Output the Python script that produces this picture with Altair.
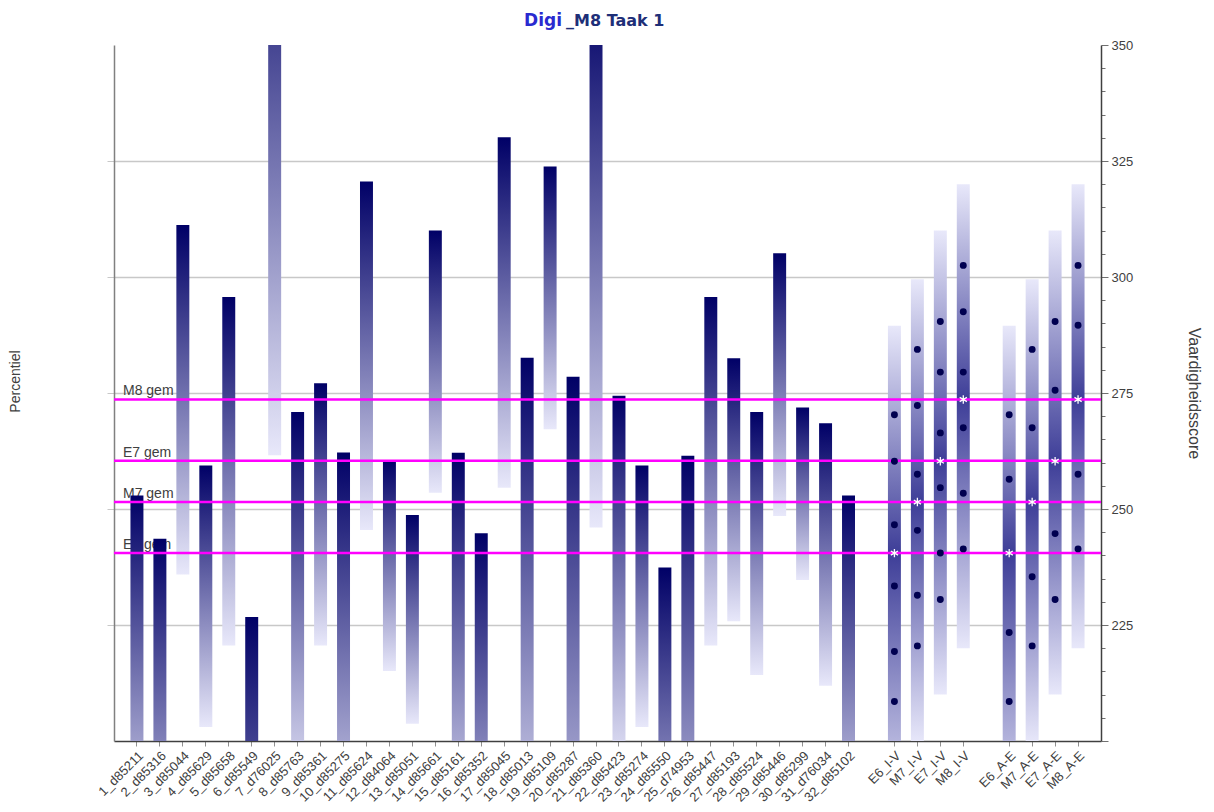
import altair as alt
import pandas as pd

# ---------------- data ----------------
items = ["1_d85211", "2_d85316", "3_d85044", "4_d85629", "5_d85658", "6_d85549",
         "7_d76025", "8_d85763", "9_d85361", "10_d85275", "11_d85624", "12_d84064",
         "13_d85051", "14_d85661", "15_d85161", "16_d85352", "17_d85045", "18_d85013",
         "19_d85109", "20_d85287", "21_d85360", "22_d85423", "23_d85274", "24_d85550",
         "25_d74953", "26_d85447", "27_d85193", "28_d85524", "29_d85446", "30_d85299",
         "31_d76034", "32_d85102"]
# extent of each item bar (gradient dark at top, light at bottom); parts outside 200-350 are clipped
item_top = [252.9, 243.6, 311.2, 259.4, 295.7, 226.7, 388.0, 270.9, 277.1, 262.2,
            320.6, 260.5, 248.7, 310.0, 262.1, 244.8, 330.1, 282.6, 323.8, 278.5,
            361.6, 274.4, 259.4, 237.4, 261.5, 295.7, 282.5, 270.9, 305.1, 271.9,
            268.5, 252.9]
item_bottom = [175.0, 165.0, 235.9, 203.0, 220.6, 130.0, 261.6, 187.5, 220.6, 173.0,
               245.5, 215.1, 203.7, 253.5, 176.0, 164.0, 254.6, 172.6, 267.2, 157.7,
               246.0, 193.5, 203.0, 162.0, 159.0, 220.6, 225.8, 214.2, 248.5, 234.7,
               211.9, 175.0]

groups = ["E6", "M7", "E7", "M8"]
iv_labels = ["E6_I-V", "M7_I-V", "E7_I-V", "M8_I-V"]
ae_labels = ["E6_A-E", "M7_A-E", "E7_A-E", "M8_A-E"]
group_top = [289.5, 299.5, 310.0, 320.0]
group_mean = [240.5, 251.5, 260.3, 273.6]
group_bottom = [182.0, 199.5, 210.0, 220.0]

iv_dots = [
    [270.3, 260.3, 246.6, 233.4, 219.3, 208.5],
    [284.4, 272.3, 257.5, 245.4, 231.4, 220.5],
    [290.4, 279.5, 266.4, 254.6, 240.5, 230.5],
    [302.5, 292.5, 279.5, 267.5, 253.4, 241.4],
]
ae_dots = [
    [270.3, 256.4, 223.4, 208.5],
    [284.4, 267.5, 235.4, 220.5],
    [290.4, 275.6, 244.7, 230.5],
    [302.5, 289.6, 257.5, 241.4],
]

mean_labels = ["M8 gem", "E7 gem", "M7 gem", "E6 gem"]
mean_values = [273.6, 260.4, 251.5, 240.5]

right_ticks = list(range(200, 351, 5))
grid_values = [225, 250, 275, 300, 325]

# ---------------- scales / encodings ----------------
cats = items + [" "] + iv_labels + ["  "] + ae_labels

FONT = "Liberation Sans"

x_axis = alt.Axis(
    title=None, labelAngle=-45, labelFontSize=13, labelColor="#404040", labelFont=FONT,
    labelOverlap=False, labelPadding=3, tickColor="#909090", tickSize=5,
    domainColor="#404040", domainWidth=1.5,
    tickOpacity={"condition": {"test": "trim(datum.value) == ''", "value": 0}, "value": 1},
)
x_enc = alt.X("cat:N", sort=cats,
              scale=alt.Scale(domain=cats, paddingInner=0.435, paddingOuter=0.717),
              axis=x_axis)
y_scale = alt.Scale(domain=[200, 350], nice=False, zero=False)

left_axis = alt.Axis(
    orient="left", title="Percentiel", labels=False, values=grid_values,
    grid=True, gridColor="#c8c8c8", gridWidth=1.5,
    tickColor="#c8c8c8", tickSize=7, domainColor="#808080", domainWidth=1.5,
    titleFont=FONT, titleFontSize=14, titleFontWeight="normal", titleColor="#404040",
    titlePadding=84, titleY=336,
)
right_axis = alt.Axis(
    orient="right", title="Vaardigheidsscore", values=right_ticks,
    labelExpr="datum.value % 25 == 0 && datum.value > 200 ? datum.label : ''",
    tickSize={"condition": {"test": "datum.value % 25 == 0", "value": 7}, "value": 4},
    tickColor="#707070", domainColor="#404040", domainWidth=1.5, grid=False,
    labelFont=FONT, labelFontSize=13, labelColor="#404040", labelPadding=3,
    titleFont=FONT, titleFontSize=16, titleFontWeight="normal", titleColor="#404040",
    titlePadding=53,
)

DARK = "#000066"
LIGHT = "#e8e8fa"

# ---------------- layers ----------------
mean_df = pd.DataFrame({"label": mean_labels, "value": mean_values})

mean_text = alt.Chart(mean_df).mark_text(
    align="left", baseline="bottom", dy=-1, fontSize=14, font=FONT, color="#404040"
).encode(x=alt.value(9), y=alt.Y("value:Q", scale=y_scale, axis=None), text="label:N")

item_df = pd.DataFrame({"cat": items, "top": item_top, "bottom": item_bottom})
item_bars = alt.Chart(item_df).mark_bar(
    clip=True,
    color={"gradient": "linear", "x1": 0, "y1": 0, "x2": 0, "y2": 1,
           "stops": [{"offset": 0, "color": DARK}, {"offset": 1, "color": LIGHT}]},
).encode(x=x_enc, y=alt.Y("top:Q", scale=y_scale, axis=left_axis), y2="bottom:Q")

group_layers = []
for i, g in enumerate(groups):
    gdf = pd.DataFrame({"cat": [iv_labels[i], ae_labels[i]],
                        "top": [group_top[i]] * 2, "bottom": [group_bottom[i]] * 2})
    off = (group_top[i] - group_mean[i]) / (group_top[i] - group_bottom[i])
    grad = {"gradient": "linear", "x1": 0, "y1": 0, "x2": 0, "y2": 1,
            "stops": [{"offset": 0, "color": LIGHT},
                      {"offset": off, "color": "#3e3e98"},
                      {"offset": 1, "color": LIGHT}]}
    group_layers.append(
        alt.Chart(gdf).mark_bar(clip=True, color=grad).encode(
            x=x_enc, y=alt.Y("top:Q", scale=y_scale, axis=None), y2="bottom:Q")
    )

mean_rules = alt.Chart(mean_df).mark_rule(color="#ff00ff", strokeWidth=2.5).encode(
    y=alt.Y("value:Q", scale=y_scale, axis=right_axis))

dot_rows = []
for i in range(len(groups)):
    for v in iv_dots[i]:
        dot_rows.append({"cat": iv_labels[i], "value": v})
    for v in ae_dots[i]:
        dot_rows.append({"cat": ae_labels[i], "value": v})
dot_df = pd.DataFrame(dot_rows)
dots = alt.Chart(dot_df).mark_circle(size=48, color="#000050", opacity=1).encode(
    x=x_enc, y=alt.Y("value:Q", scale=y_scale, axis=None))

star_df = pd.DataFrame({"cat": iv_labels + ae_labels, "value": group_mean + group_mean})
star_shape = "M0,-1L0,1M-0.866,-0.5L0.866,0.5M-0.866,0.5L0.866,-0.5"
stars = alt.Chart(star_df).mark_point(
    shape=star_shape, size=70, filled=False, stroke="white", strokeWidth=1.3, opacity=1
).encode(x=x_enc, y=alt.Y("value:Q", scale=y_scale, axis=None))

title_a = alt.Chart(pd.DataFrame({"t": ["Digi"]})).mark_text(
    align="right", baseline="alphabetic", font="DejaVu Sans", fontSize=17,
    fontWeight="bold", color="#2a2ad0"
).encode(x=alt.value(448), y=alt.value(-19), text="t:N")
title_b = alt.Chart(pd.DataFrame({"t": ["_M8 Taak 1"]})).mark_text(
    align="left", baseline="alphabetic", font="DejaVu Sans", fontSize=16,
    fontWeight="bold", color="#1e2f78"
).encode(x=alt.value(452), y=alt.value(-19), text="t:N")

chart = alt.layer(
    mean_text, item_bars, *group_layers, mean_rules, dots, stars, title_a, title_b
).resolve_axis(y="independent").properties(
    width=987, height=696,
    autosize=alt.AutoSizeParams(type="none"),
    padding={"left": 106, "top": 37, "right": 104, "bottom": 70},
).configure_view(stroke=None)

chart.save("out.html", embed_options={"renderer": "svg", "actions": False})
